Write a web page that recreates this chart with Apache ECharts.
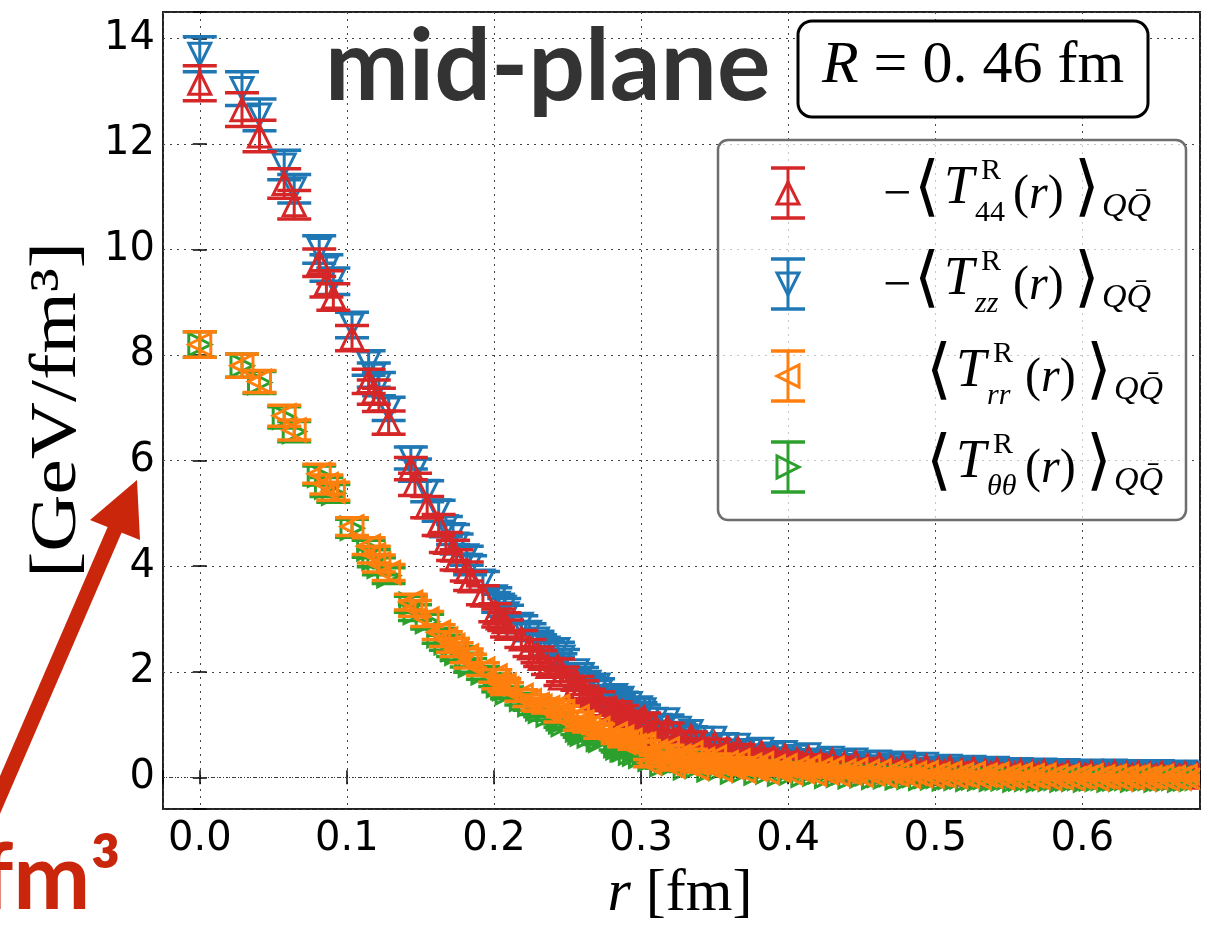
<!DOCTYPE html>
<html>
<head>
<meta charset="utf-8">
<script src="https://cdn.jsdelivr.net/npm/echarts@6/dist/echarts.min.js"></script>
<style>
  html, body { margin: 0; padding: 0; background: #fff; }
  #chart { width: 1208px; height: 927px; }
</style>
</head>
<body>
<div id="chart"></div>
<script>
// distances r [fm]: lattice points up to 0.3 fm ...
const rInner = [
  0, 0.0287, 0.0406, 0.0574, 0.0642, 0.0812, 0.0861, 0.0908, 0.1035, 0.1148,
  0.1183, 0.1218, 0.1284, 0.1435, 0.1463, 0.1546, 0.1624, 0.1673, 0.1722, 0.1746,
  0.1815, 0.1838, 0.1925, 0.2009, 0.2029, 0.2070, 0.2089, 0.2186, 0.2242, 0.2296,
  0.2314, 0.2367, 0.2435, 0.2452, 0.2469, 0.2567, 0.2583, 0.2599, 0.2646, 0.2708,
  0.2723, 0.2827, 0.2841, 0.2870, 0.2884, 0.2927, 0.2955, 0.2996
];
// ... and the dense band beyond it
const rOuter = [
  0.302, 0.306, 0.310, 0.314, 0.318, 0.322, 0.326, 0.330, 0.334, 0.338,
  0.342, 0.346, 0.350, 0.354, 0.358, 0.362, 0.366, 0.370, 0.374, 0.378,
  0.382, 0.386, 0.390, 0.394, 0.398, 0.402, 0.406, 0.410, 0.414, 0.418,
  0.422, 0.426, 0.430, 0.434, 0.438, 0.442, 0.446, 0.450, 0.454, 0.458,
  0.462, 0.466, 0.470, 0.474, 0.478, 0.482, 0.486, 0.490, 0.494, 0.498,
  0.502, 0.506, 0.510, 0.514, 0.518, 0.522, 0.526, 0.530, 0.534, 0.538,
  0.542, 0.546, 0.550, 0.554, 0.558, 0.562, 0.566, 0.570, 0.574, 0.578,
  0.582, 0.586, 0.590, 0.594, 0.598, 0.602, 0.606, 0.610, 0.614, 0.618,
  0.622, 0.626, 0.630, 0.634, 0.638, 0.642, 0.646, 0.650, 0.654, 0.658,
  0.662, 0.666, 0.670, 0.674, 0.678
];

// -<T44>  (red)
const t44Inner = [
  13.15, 12.65, 12.15, 11.25, 10.85, 9.75, 9.35, 9.10, 8.32, 7.50,
  7.30, 7.15, 6.72, 5.85, 5.55, 5.12, 4.78, 4.45, 4.30, 4.12,
  3.90, 3.72, 3.45, 3.12, 3.02, 2.95, 2.82, 2.62, 2.45, 2.32,
  2.25, 2.10, 2.10, 1.88, 1.95, 1.78, 1.60, 1.70, 1.55, 1.50,
  1.38, 1.32, 1.20, 1.25, 1.12, 1.15, 1.02, 1.06
];
const t44Outer = [
  1.13, 0.82, 0.95, 0.80, 0.94, 0.65, 0.78, 0.64, 0.77, 0.50,
  0.64, 0.52, 0.64, 0.40, 0.52, 0.42, 0.54, 0.32, 0.44, 0.34,
  0.46, 0.26, 0.37, 0.28, 0.40, 0.21, 0.33, 0.25, 0.36, 0.18,
  0.28, 0.21, 0.31, 0.14, 0.25, 0.18, 0.28, 0.12, 0.22, 0.15,
  0.24, 0.10, 0.19, 0.13, 0.22, 0.09, 0.17, 0.11, 0.20, 0.07,
  0.15, 0.10, 0.18, 0.06, 0.13, 0.08, 0.16, 0.04, 0.12, 0.07,
  0.14, 0.04, 0.10, 0.06, 0.12, 0.03, 0.09, 0.05, 0.11, 0.02,
  0.08, 0.04, 0.10, 0.01, 0.07, 0.04, 0.09, 0.01, 0.07, 0.03,
  0.09, 0.01, 0.06, 0.03, 0.08, 0.01, 0.06, 0.03, 0.08, 0.00,
  0.06, 0.03, 0.07, 0.00, 0.05
];

// -<Tzz>  (blue)
const tzzInner = [
  13.70, 13.05, 12.55, 11.60, 11.15, 10.00, 9.65, 9.40, 8.57, 7.85,
  7.62, 7.45, 6.98, 6.05, 5.82, 5.42, 5.05, 4.75, 4.60, 4.42,
  4.20, 4.02, 3.72, 3.42, 3.30, 3.22, 3.10, 2.90, 2.75, 2.62,
  2.55, 2.45, 2.42, 2.20, 2.28, 2.02, 1.85, 1.95, 1.80, 1.75,
  1.62, 1.55, 1.45, 1.50, 1.38, 1.40, 1.28, 1.32
];
const tzzOuter = [
  1.28, 0.97, 1.10, 0.95, 1.09, 0.80, 0.93, 0.79, 0.87, 0.60,
  0.74, 0.62, 0.74, 0.50, 0.62, 0.49, 0.61, 0.39, 0.51, 0.41,
  0.53, 0.33, 0.44, 0.35, 0.47, 0.28, 0.40, 0.32, 0.43, 0.25,
  0.33, 0.26, 0.36, 0.19, 0.30, 0.23, 0.33, 0.17, 0.27, 0.20,
  0.29, 0.15, 0.24, 0.18, 0.27, 0.14, 0.22, 0.16, 0.25, 0.12,
  0.18, 0.13, 0.21, 0.09, 0.16, 0.11, 0.19, 0.07, 0.15, 0.10,
  0.17, 0.07, 0.13, 0.09, 0.15, 0.06, 0.12, 0.08, 0.14, 0.05,
  0.11, 0.07, 0.13, 0.04, 0.10, 0.07, 0.12, 0.04, 0.10, 0.06,
  0.12, 0.04, 0.09, 0.06, 0.11, 0.04, 0.09, 0.06, 0.11, 0.03,
  0.09, 0.06, 0.10, 0.03, 0.08
];

// <Trr>  (orange)
const trrInner = [
  8.20, 7.80, 7.50, 6.85, 6.58, 5.75, 5.55, 5.42, 4.75, 4.38,
  4.22, 4.05, 3.88, 3.32, 3.20, 3.00, 2.75, 2.62, 2.50, 2.42,
  2.30, 2.20, 2.05, 1.92, 1.80, 1.75, 1.68, 1.55, 1.45, 1.38,
  1.35, 1.32, 1.35, 1.15, 1.25, 1.15, 0.98, 1.05, 0.95, 0.92,
  0.82, 0.82, 0.72, 0.76, 0.66, 0.70, 0.60, 0.62
];
const trrOuter = [
  0.63, 0.27, 0.49, 0.34, 0.54, 0.21, 0.40, 0.27, 0.46, 0.17,
  0.34, 0.22, 0.38, 0.14, 0.28, 0.19, 0.31, 0.12, 0.23, 0.15,
  0.26, 0.09, 0.20, 0.13, 0.22, 0.08, 0.17, 0.11, 0.20, 0.06,
  0.15, 0.09, 0.17, 0.05, 0.12, 0.08, 0.14, 0.04, 0.11, 0.06,
  0.12, 0.03, 0.09, 0.05, 0.11, 0.02, 0.08, 0.04, 0.09, 0.02,
  0.06, 0.03, 0.08, 0.01, 0.05, 0.02, 0.07, 0.00, 0.04, 0.02,
  0.06, -0.01, 0.03, 0.01, 0.05, -0.01, 0.03, 0.00, 0.04, -0.02,
  0.02, -0.01, 0.03, -0.03, 0.01, -0.01, 0.03, -0.03, 0.01, -0.01,
  0.02, -0.03, 0.01, -0.01, 0.02, -0.03, 0.00, -0.01, 0.02, -0.03,
  0.00, -0.02, 0.02, -0.03, 0.00
];

// <Ttheta theta>  (green)
const tttInner = [
  8.20, 7.80, 7.48, 6.82, 6.55, 5.72, 5.50, 5.38, 4.72, 4.33,
  4.15, 4.00, 3.82, 3.28, 3.12, 2.95, 2.68, 2.55, 2.42, 2.35,
  2.22, 2.12, 1.98, 1.84, 1.74, 1.68, 1.60, 1.48, 1.38, 1.30,
  1.25, 1.18, 1.12, 1.05, 1.00, 0.90, 0.85, 0.82, 0.78, 0.72,
  0.70, 0.60, 0.56, 0.52, 0.52, 0.46, 0.44, 0.40
];
const tttOuter = [
  0.46, 0.34, 0.49, 0.24, 0.37, 0.27, 0.40, 0.18, 0.30, 0.21,
  0.32, 0.14, 0.24, 0.17, 0.26, 0.10, 0.19, 0.13, 0.21, 0.08,
  0.15, 0.10, 0.17, 0.06, 0.12, 0.08, 0.14, 0.04, 0.10, 0.06,
  0.11, 0.02, 0.08, 0.04, 0.09, 0.01, 0.06, 0.03, 0.07, 0.00,
  0.04, 0.01, 0.05, -0.01, 0.03, 0.00, 0.04, -0.02, 0.02, -0.01,
  0.02, -0.03, 0.00, -0.02, 0.01, -0.04, -0.01, -0.03, 0.00, -0.04,
  -0.02, -0.03, -0.01, -0.05, -0.03, -0.04, -0.02, -0.05, -0.03, -0.04,
  -0.02, -0.05, -0.03, -0.04, -0.02, -0.05, -0.03, -0.04, -0.02, -0.05,
  -0.03, -0.04, -0.02, -0.05, -0.03, -0.04, -0.02, -0.05, -0.03, -0.04,
  -0.02, -0.05, -0.03, -0.04, -0.02
];

// error bars: red/blue and orange/green
const errRBInner = [
  0.33, 0.32, 0.30, 0.28, 0.27, 0.26, 0.25, 0.25, 0.24, 0.23,
  0.23, 0.22, 0.22, 0.21, 0.21, 0.20, 0.20, 0.19, 0.19, 0.19,
  0.18, 0.18, 0.18, 0.17, 0.17, 0.17, 0.16, 0.16, 0.16, 0.15,
  0.15, 0.15, 0.14, 0.14, 0.14, 0.13, 0.13, 0.13, 0.12, 0.12,
  0.12, 0.11, 0.11, 0.11, 0.10, 0.10, 0.10, 0.10
];
const errRBOuter = [
  0.09, 0.09, 0.09, 0.09, 0.09, 0.09, 0.09, 0.09, 0.09, 0.09,
  0.08, 0.08, 0.08, 0.08, 0.08, 0.08, 0.08, 0.08, 0.08, 0.08,
  0.07, 0.07, 0.07, 0.07, 0.07, 0.07, 0.07, 0.07, 0.07, 0.07,
  0.06, 0.06, 0.06, 0.06, 0.06, 0.06, 0.06, 0.06, 0.06, 0.06,
  0.05, 0.05, 0.05, 0.05, 0.05, 0.05, 0.05, 0.05, 0.05, 0.05,
  0.05, 0.05, 0.05, 0.05, 0.05, 0.04, 0.04, 0.04, 0.04, 0.04,
  0.04, 0.04, 0.04, 0.04, 0.04, 0.04, 0.04, 0.04, 0.04, 0.04,
  0.03, 0.03, 0.03, 0.03, 0.03, 0.03, 0.03, 0.03, 0.03, 0.03,
  0.03, 0.03, 0.03, 0.03, 0.03, 0.03, 0.03, 0.03, 0.03, 0.03,
  0.03, 0.03, 0.03, 0.03, 0.03
];
const errOGInner = [
  0.24, 0.22, 0.21, 0.20, 0.19, 0.18, 0.18, 0.17, 0.17, 0.16,
  0.16, 0.16, 0.15, 0.15, 0.15, 0.14, 0.14, 0.14, 0.13, 0.13,
  0.13, 0.13, 0.12, 0.12, 0.12, 0.12, 0.11, 0.11, 0.11, 0.11,
  0.10, 0.10, 0.10, 0.10, 0.10, 0.09, 0.09, 0.09, 0.09, 0.09,
  0.08, 0.08, 0.08, 0.08, 0.08, 0.08, 0.07, 0.07
];
const errOGOuter = [
  0.07, 0.07, 0.07, 0.07, 0.07, 0.07, 0.07, 0.07, 0.07, 0.07,
  0.06, 0.06, 0.06, 0.06, 0.06, 0.06, 0.06, 0.06, 0.06, 0.06,
  0.05, 0.05, 0.05, 0.05, 0.05, 0.05, 0.05, 0.05, 0.05, 0.05,
  0.04, 0.04, 0.04, 0.04, 0.04, 0.04, 0.04, 0.04, 0.04, 0.04,
  0.04, 0.04, 0.04, 0.04, 0.04, 0.03, 0.03, 0.03, 0.03, 0.03,
  0.03, 0.03, 0.03, 0.03, 0.03, 0.03, 0.03, 0.03, 0.03, 0.03,
  0.03, 0.03, 0.03, 0.03, 0.03, 0.02, 0.02, 0.02, 0.02, 0.02,
  0.02, 0.02, 0.02, 0.02, 0.02, 0.02, 0.02, 0.02, 0.02, 0.02,
  0.02, 0.02, 0.02, 0.02, 0.02, 0.02, 0.02, 0.02, 0.02, 0.02,
  0.02, 0.02, 0.02, 0.02, 0.02
];

const rVals = rInner.concat(rOuter);
const t44 = t44Inner.concat(t44Outer);
const tzz = tzzInner.concat(tzzOuter);
const trr = trrInner.concat(trrOuter);
const ttt = tttInner.concat(tttOuter);
const errRB = errRBInner.concat(errRBOuter);
const errOG = errOGInner.concat(errOGOuter);

const RED = '#d62728', BLUE = '#1f77b4', ORANGE = '#ff7f0e', GREEN = '#2ca02c';
const SERIF = '"Liberation Serif", "DejaVu Serif", serif';
const CAP = 17, TRI = 11;

function tri(dir) {
  const h = TRI;
  if (dir == 'up') return [[0, -h], [-h, h], [h, h]];
  if (dir == 'down') return [[0, h], [-h, -h], [h, -h]];
  if (dir == 'left') return [[-h, 0], [h, -h], [h, h]];
  return [[h, 0], [-h, -h], [-h, h]];
}

function errorbarShapes(cx, cy, yHi, yLo, color, dir) {
  const st = { stroke: color, lineWidth: 3 };
  const capSt = { stroke: color, lineWidth: 3.5 };
  return [
    { type: 'line', shape: { x1: cx, y1: yHi, x2: cx, y2: yLo }, style: st },
    { type: 'line', shape: { x1: cx - CAP, y1: yHi, x2: cx + CAP, y2: yHi }, style: capSt },
    { type: 'line', shape: { x1: cx - CAP, y1: yLo, x2: cx + CAP, y2: yLo }, style: capSt },
    { type: 'polygon', shape: { points: tri(dir).map(p => [cx + p[0], cy + p[1]]) },
      style: { fill: 'none', stroke: color, lineWidth: 3 } }
  ];
}

function serie(name, vals, errs, color, dir, z) {
  return {
    type: 'custom',
    name: name,
    z: z,
    clip: true,
    data: rVals.map((r, i) => [r, vals[i], errs[i]]),
    encode: { x: 0, y: 1 },
    renderItem: function (params, api) {
      const x = api.value(0), y = api.value(1), e = api.value(2);
      const c = api.coord([x, y]);
      const hi = api.coord([x, y + e]);
      const lo = api.coord([x, y - e]);
      return { type: 'group', children: errorbarShapes(c[0], c[1], hi[1], lo[1], color, dir) };
    }
  };
}

function legendRow(yc, color, dir, minus, sub, subItalic, dx) {
  const els = errorbarShapes(788, yc, yc - 25, yc + 25, color, dir);
  const txt = (x, y, text, font, rich) => {
    const st = { text: text, font: font, fill: '#000', verticalAlign: 'middle' };
    if (rich) st.rich = rich;
    els.push({ type: 'text', x: x, y: y, style: st });
  };
  if (minus) txt(883, yc + 3, '\u2212', '50px ' + SERIF);
  txt(914 + dx, yc - 2, '\u27E8', '66px "DejaVu Sans"');
  txt(944 + dx, yc - 4, 'T', 'italic 54px ' + SERIF);
  txt(981 + dx, yc - 22, 'R', '30px ' + SERIF);
  txt(975 + dx, yc + 20, sub, (subItalic ? 'italic ' : '') + '30px ' + SERIF);
  txt(1013 + dx, yc + 2, '({i|r})', '48px ' + SERIF, { i: { font: 'italic 48px ' + SERIF, fill: '#000' } });
  txt(1074 + dx, yc - 2, '\u27E9', '66px "DejaVu Sans"');
  txt(1102 + dx, yc + 14, 'QQ\u0304', 'italic 34px ' + SERIF);
  els.forEach(e => { e.z = 11; });
  return els;
}

const xMin = -0.025, xMax = 0.68, yMin = -0.6, yMax = 14.5;
const tickFont = { fontFamily: 'DejaVu Sans', fontSize: 40, color: '#000' };
const tickLine = { inside: true, length: 7, lineStyle: { color: '#000', width: 1.5 } };
const gridLine = { show: true, lineStyle: { color: '#444', type: [2, 5], width: 1 } };

const option = {
  animation: false,
  backgroundColor: '#fff',
  grid: { left: 163, right: 8, top: 12, bottom: 118, show: true, borderColor: '#222', borderWidth: 2, backgroundColor: 'transparent' },
  xAxis: [
    { type: 'value', min: xMin, max: xMax, splitNumber: 7, position: 'bottom',
      axisLine: { show: false }, axisTick: tickLine,
      axisLabel: Object.assign({ margin: 11, formatter: v => Math.abs(v * 10 - Math.round(v * 10)) < 1e-6 ? v.toFixed(1) : '' }, tickFont),
      splitLine: gridLine },
    { type: 'value', min: xMin, max: xMax, splitNumber: 7, position: 'top',
      axisLine: { show: false }, axisTick: tickLine,
      axisLabel: { show: false }, splitLine: { show: false } }
  ],
  yAxis: [
    { type: 'value', min: yMin, max: yMax, splitNumber: 7, position: 'left',
      axisLine: { show: false }, axisTick: tickLine,
      axisLabel: Object.assign({ margin: 8, formatter: v => Math.abs(v / 2 - Math.round(v / 2)) < 1e-6 ? String(Math.round(v)) : '' }, tickFont),
      splitLine: gridLine },
    { type: 'value', min: yMin, max: yMax, splitNumber: 7, position: 'right',
      axisLine: { show: false }, axisTick: tickLine,
      axisLabel: { show: false }, splitLine: { show: false } }
  ],
  series: [
    Object.assign(serie('Tzz', tzz, errRB, BLUE, 'down', 2), {
      markLine: { silent: true, symbol: 'none', label: { show: false }, animation: false,
        lineStyle: { color: '#333', type: [1, 2], width: 1 }, data: [{ yAxis: 0 }] }
    }),
    serie('T44', t44, errRB, RED, 'up', 3),
    serie('Ttt', ttt, errOG, GREEN, 'right', 4),
    serie('Trr', trr, errOG, ORANGE, 'left', 5)
  ],
  graphic: [
    { type: 'text', x: 325, y: 68, z: 10, style: { text: 'mid-plane', font: 'bold 100px Lato', fill: '#333', verticalAlign: 'middle' } },
    { type: 'rect', z: 10, shape: { x: 798, y: 21, width: 350, height: 96, r: 14 }, style: { fill: '#fff', stroke: '#000', lineWidth: 3 } },
    { type: 'text', z: 11, x: 973, y: 66, style: {
      text: '{i|R} = 0. 46 fm', font: '60px ' + SERIF, fill: '#000', align: 'center', verticalAlign: 'middle',
      rich: { i: { font: 'italic 60px ' + SERIF, fill: '#000' } } } },
    { type: 'rect', z: 10, shape: { x: 718, y: 140, width: 468, height: 380, r: 10 }, style: { fill: 'rgba(255,255,255,0.7)', stroke: '#6e6e6e', lineWidth: 2.5 } },
    { type: 'group', z: 11, children: []
      .concat(legendRow(193, RED, 'up', true, '44', false, 0))
      .concat(legendRow(284, BLUE, 'down', true, 'zz', true, 0))
      .concat(legendRow(376, ORANGE, 'left', false, 'rr', true, 12))
      .concat(legendRow(467, GREEN, 'right', false, '\u03B8\u03B8', true, 12)) },
    { type: 'text', x: 680, y: 894, style: {
      text: '{i|r} [fm]', font: '60px ' + SERIF, fill: '#000', align: 'center', verticalAlign: 'middle',
      rich: { i: { font: 'italic 60px ' + SERIF, fill: '#000' } } } },
    { type: 'text', x: 58, y: 410, rotation: Math.PI / 2, scaleX: 1.2, style: {
      text: '[GeV/fm\u00B3]', font: '66px ' + SERIF, fill: '#000', align: 'center', verticalAlign: 'middle' } },
    { type: 'line', z: 12, shape: { x1: -10, y1: 818, x2: 118, y2: 522 }, style: { stroke: '#c9260b', lineWidth: 15 } },
    { type: 'polygon', z: 12, shape: { points: [[137, 480], [90, 520], [140, 540]] }, style: { fill: '#c9260b' } },
    { type: 'text', z: 12, x: 121, y: 879, style: { text: 'fm\u00B3', font: 'bold 92px Lato', fill: '#c9260b', align: 'right', verticalAlign: 'middle' } }
  ]
};

const chart = echarts.init(document.getElementById('chart'));
chart.setOption(option);
</script>
</body>
</html>
